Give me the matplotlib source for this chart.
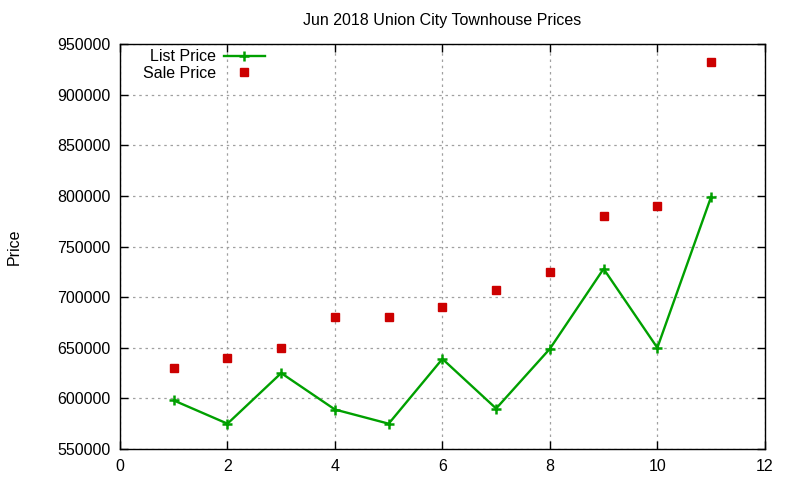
import matplotlib
matplotlib.use('Agg')
import matplotlib.pyplot as plt

plt.rcParams['font.family'] = ['Liberation Sans', 'DejaVu Sans']

# Données
months = [1, 2, 3, 4, 5, 6, 7, 8, 9, 10, 11]
list_price = [598000, 575000, 625000, 589000, 575000, 639000, 590000, 649000, 728000, 650000, 799000]
sale_price = [630000, 640000, 650000, 680000, 680000, 690000, 707500, 725000, 780000, 790000, 932000]

x_ticks = [0, 2, 4, 6, 8, 10, 12]
y_ticks = [550000, 600000, 650000, 700000, 750000, 800000, 850000, 900000, 950000]

fig = plt.figure(figsize=(8, 4.8), dpi=100)
ax = fig.add_axes([0.15, 0.0646, 0.806, 0.8435])

ax.plot(months, list_price, color='#00a000', lw=1.7, marker='+', ms=7, mew=1.8,
        label='List Price')
ax.plot(months, sale_price, ls='none', color='#cc0000', marker='s', ms=5.5,
        label='Sale Price')

ax.set_xlim(0, 12)
ax.set_ylim(550000, 950000)
ax.set_xticks(x_ticks)
ax.set_yticks(y_ticks)
ax.tick_params(direction='in', length=6, width=1, top=True, right=True,
               labelsize=11.5, pad=7, colors='black')
ax.ticklabel_format(style='plain', axis='y', useOffset=False)

ax.grid(True, color='#a0a0a0', ls=(0, (2, 3)), lw=0.9)
ax.set_axisbelow(True)
for sp in ax.spines.values():
    sp.set_linewidth(1)

ax.set_title('Jun 2018 Union City Townhouse Prices', fontsize=11.5, pad=14)
ax.set_ylabel('Price', fontsize=11.5)
ax.yaxis.set_label_coords(-0.152, 0.5)

ax.legend(loc='upper left', frameon=False, markerfirst=False, fontsize=11.5,
          handlelength=2.6, labelspacing=0.1, borderaxespad=0.0,
          bbox_to_anchor=(0.025, 1.003), handletextpad=0.5)

fig.savefig('out.png', dpi=100)
